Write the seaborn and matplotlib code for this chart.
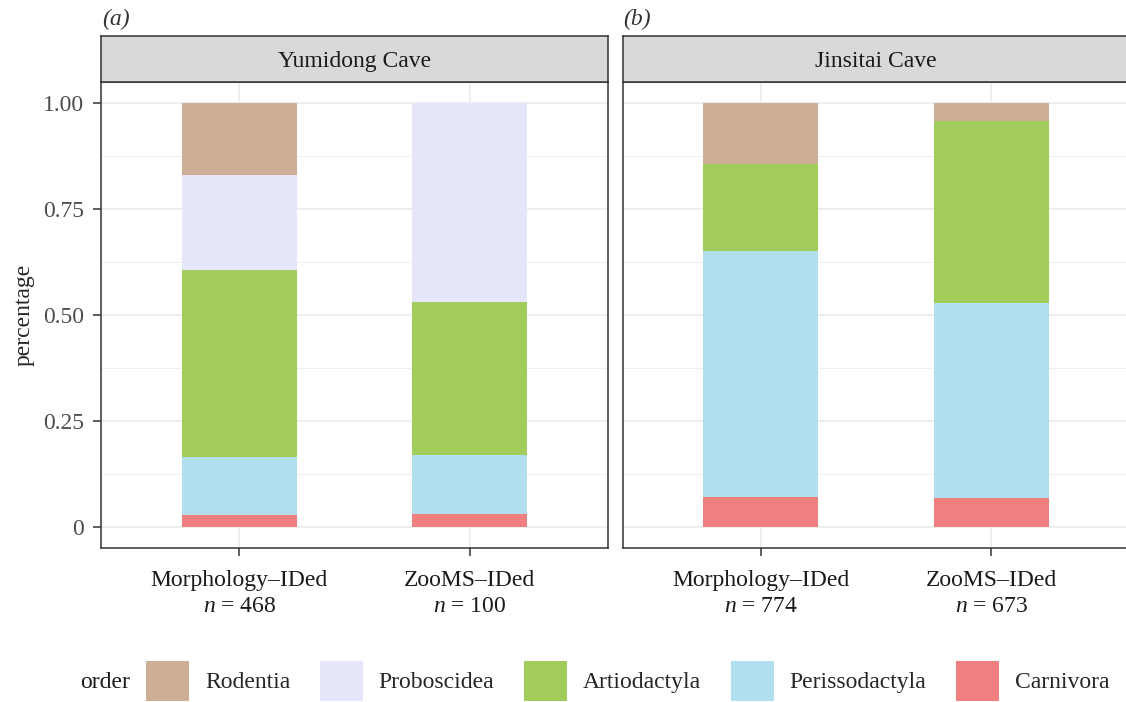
import numpy as np
import pandas as pd
import matplotlib
matplotlib.use("Agg")
import matplotlib.pyplot as plt
import seaborn as sns
from matplotlib.patches import Patch

# ---- data (proportions) ----
sites = ["Yumidong Cave", "Jinsitai Cave"]
panel_tags = ["(a)", "(b)"]
groups = ["Morphology–IDed", "ZooMS–IDed"]
orders = ["Rodentia", "Proboscidea", "Artiodactyla", "Perissodactyla", "Carnivora"]
colors = ["#CDAF95", "#E6E6FA", "#A2CD5A", "#B2DFEE", "#F08080"]

# values follow the `orders` list, top of the stack first
yumidong_morph = [0.169, 0.225, 0.441, 0.137, 0.028]
yumidong_zooms = [0.000, 0.470, 0.360, 0.140, 0.030]
jinsitai_morph = [0.143, 0.000, 0.206, 0.580, 0.071]
jinsitai_zooms = [0.042, 0.000, 0.430, 0.460, 0.068]

yumidong_n = [468, 100]
jinsitai_n = [774, 673]

rows = []
for site, vals_list in [("Yumidong Cave", [yumidong_morph, yumidong_zooms]),
                        ("Jinsitai Cave", [jinsitai_morph, jinsitai_zooms])]:
    for grp, vals in zip(groups, vals_list):
        for o, v in zip(orders, vals):
            rows.append({"site": site, "group": grp, "order": o, "prop": v})
df = pd.DataFrame(rows)
# top of each segment = cumulative sum from the bottom (Carnivora) upwards
df["top"] = df.iloc[::-1].groupby(["site", "group"])["prop"].cumsum().iloc[::-1]

n_by_site = {"Yumidong Cave": yumidong_n, "Jinsitai Cave": jinsitai_n}

# ---- style ----
sns.set_theme(style="white")
plt.rcParams["font.family"] = ["Liberation Serif", "DejaVu Serif"]
plt.rcParams["mathtext.fontset"] = "custom"
plt.rcParams["mathtext.rm"] = "Liberation Serif"
plt.rcParams["mathtext.it"] = "Liberation Serif:italic"
FS = 17
border = "#333333"
grid_col = "#EBEBEB"

W, H = 1126, 702
fig = plt.figure(figsize=(W / 100, H / 100), dpi=100)

panel_w = 507
panel_left = [101, 622.5]
panel_top, panel_bot = 82, 548
strip_top = 36

for i, site in enumerate(sites):
    ax = fig.add_axes([panel_left[i] / W, 1 - panel_bot / H,
                       panel_w / W, (panel_bot - panel_top) / H])
    sub = df[df["site"] == site]
    for o, c in zip(orders, colors):
        sns.barplot(data=sub[sub["order"] == o], x="group", y="top", order=groups,
                    color=c, saturation=1, width=0.5, linewidth=0,
                    errorbar=None, ax=ax)
    ax.set_axisbelow(True)
    ax.set_xlim(-0.6, 1.6)
    ax.set_ylim(-0.05, 1.05)
    ax.set_yticks([0, 0.25, 0.5, 0.75, 1.0])
    ax.set_yticks([0.125, 0.375, 0.625, 0.875], minor=True)
    ax.grid(True, which="major", color=grid_col, lw=1.2)
    ax.grid(True, which="minor", axis="y", color=grid_col, lw=0.6)
    ax.set_xticks([0, 1])
    ax.set_xticklabels([f"{g}\n$n$ = {n}" for g, n in zip(groups, n_by_site[site])],
                       fontsize=FS, color="#1a1a1a", linespacing=1.32)
    ax.tick_params(axis="x", which="major", length=6, width=1.1, color=border,
                   pad=10, bottom=True)
    ax.tick_params(axis="y", which="major", length=6, width=1.1, color=border,
                   pad=6, left=(i == 0), labelleft=(i == 0),
                   labelsize=FS, labelcolor="#4D4D4D")
    ax.tick_params(axis="y", which="minor", length=0)
    ax.set_yticklabels(["0", "0.25", "0.50", "0.75", "1.00"])
    ax.set_xlabel("")
    if i == 0:
        ax.set_ylabel("percentage", fontsize=FS, labelpad=6)
    else:
        ax.set_ylabel("")
    for sp in ax.spines.values():
        sp.set_color(border)
        sp.set_linewidth(1.1)
        sp.set_visible(True)

    # facet strip
    sax = fig.add_axes([panel_left[i] / W, 1 - panel_top / H,
                        panel_w / W, (panel_top - strip_top) / H])
    sax.set_facecolor("#D9D9D9")
    sax.set_xticks([])
    sax.set_yticks([])
    for sp in sax.spines.values():
        sp.set_color(border)
        sp.set_linewidth(1.1)
    sax.text(0.5, 0.44, site, transform=sax.transAxes, ha="center", va="center",
             fontsize=FS, color="#1a1a1a")

    fig.text((panel_left[i] + 1) / W, 1 - 19 / H, panel_tags[i], fontsize=FS,
             style="italic", ha="left", va="center", color="#333333")

# legend
handles = [Patch(facecolor=c, edgecolor="none", lw=0) for c in colors]
fig.legend(handles, orders, loc="center left", bbox_to_anchor=(146 / W, 1 - 681 / H),
           ncol=5, frameon=False, fontsize=FS, handlelength=1.82, handleheight=2.23,
           handletextpad=0.68, columnspacing=1.25, borderpad=0, borderaxespad=0)
fig.text(80 / W, 1 - 683 / H, "order", fontsize=FS, ha="left", va="center",
         color="#1a1a1a")

fig.savefig("out.png", dpi=100)
